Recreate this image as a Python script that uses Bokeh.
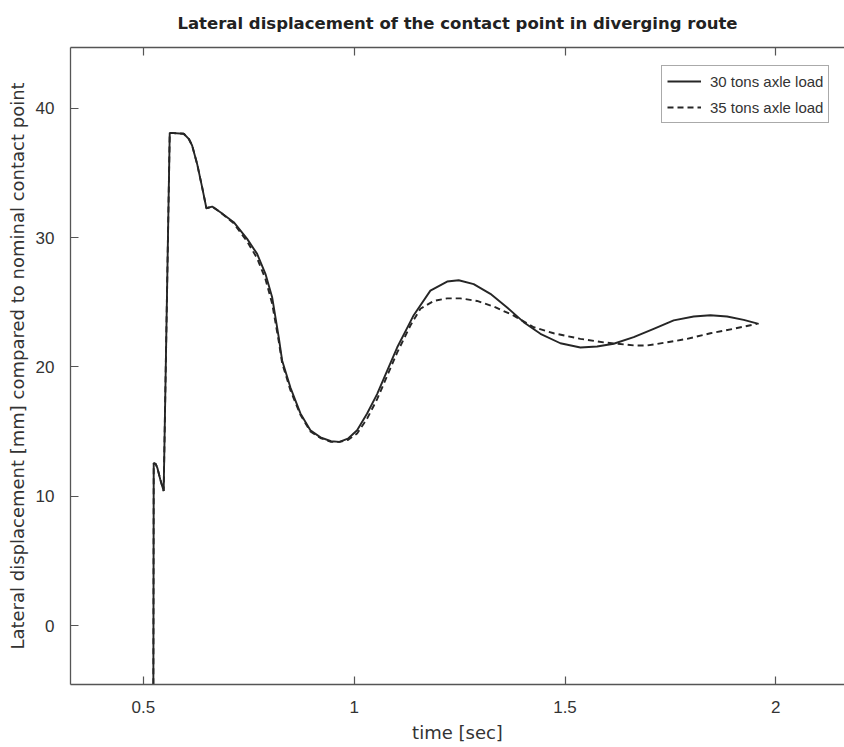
from bokeh.plotting import figure
from bokeh.models import Range1d, FixedTicker, LinearAxis, Legend, LegendItem
from bokeh.embed import file_html
from bokeh.resources import INLINE

# ---- data ----
t30 = [0.5228, 0.5244, 0.529, 0.533, 0.540, 0.548, 0.5624, 0.5956, 0.6075, 0.6155,
       0.6274, 0.6392, 0.6494, 0.663, 0.6826, 0.7142, 0.746, 0.7697, 0.7894, 0.8053,
       0.8209, 0.829, 0.8487, 0.8724, 0.896, 0.92, 0.945, 0.965, 0.985, 1.0069,
       1.0306, 1.0543, 1.078, 1.1018, 1.1333, 1.1411, 1.1807, 1.2204, 1.2479, 1.2834,
       1.323, 1.3627, 1.402, 1.4417, 1.489, 1.5365, 1.5761, 1.6155, 1.663, 1.7104,
       1.7578, 1.8053, 1.8449, 1.8845, 1.9239, 1.9594]
d30 = [-20.0, 12.55, 12.5, 12.2, 11.3, 10.4, 38.1, 38.03, 37.64, 37.12,
       35.7, 33.9, 32.27, 32.4, 31.96, 31.19, 29.9, 28.74, 27.2, 25.39,
       22.3, 20.5, 18.4, 16.4, 15.1, 14.55, 14.25, 14.2, 14.45, 15.1,
       16.4, 17.9, 19.7, 21.5, 23.5, 24.0, 25.9, 26.6, 26.7, 26.4,
       25.65, 24.6, 23.46, 22.56, 21.83, 21.5, 21.58, 21.79, 22.3, 22.95,
       23.6, 23.9, 24.0, 23.9, 23.64, 23.33]

t35 = [0.5228, 0.5244, 0.529, 0.533, 0.540, 0.548, 0.5624, 0.5956, 0.6075, 0.6155,
       0.6274, 0.6392, 0.6494, 0.663, 0.6826, 0.7142, 0.746, 0.7697, 0.7894, 0.8053,
       0.8209, 0.829, 0.8487, 0.8724, 0.896, 0.92, 0.945, 0.965, 0.985, 1.0069,
       1.0306, 1.0543, 1.078, 1.1018, 1.1333, 1.157, 1.1886, 1.2204, 1.2519, 1.2915,
       1.3309, 1.3783, 1.4258, 1.4732, 1.5365, 1.5918, 1.663, 1.6947, 1.7422, 1.7896,
       1.8449, 1.9001, 1.9556]
d35 = [-20.0, 12.55, 12.5, 12.2, 11.3, 10.4, 38.1, 38.03, 37.64, 37.12,
       35.7, 33.9, 32.27, 32.4, 31.96, 31.1, 29.7, 28.4, 26.8, 24.9,
       22.0, 20.3, 18.2, 16.3, 15.0, 14.5, 14.2, 14.2, 14.35, 14.85,
       16.0, 17.5, 19.3, 21.1, 23.2, 24.5, 25.1, 25.3, 25.3, 25.1,
       24.67, 23.97, 23.07, 22.6, 22.17, 21.9, 21.66, 21.66, 21.9, 22.17,
       22.6, 22.95, 23.33]

x_ticks = [0.5, 1, 1.5, 2]
x_tick_labels = ["0.5", "1", "1.5", "2"]
y_ticks = [0, 10, 20, 30, 40]
series_names = ["30 tons axle load", "35 tons axle load"]

FONT = "Liberation Sans"
WIDE = "DejaVu Sans"
AX = "#555555"
TXT = "#333333"
LINE = "#262626"

p = figure(width=844, height=747, output_backend="svg", toolbar_location=None,
           x_range=Range1d(0.327, 2.163), y_range=Range1d(-4.56, 44.7),
           min_border_left=70, min_border_right=0, min_border_top=47, min_border_bottom=63,
           x_axis_label="time [sec]",
           y_axis_label="Lateral displacement [mm] compared to nominal contact point")
p.outline_line_color = None
p.grid.visible = False
p.background_fill_color = "white"
p.border_fill_color = "white"

p.title.text = "Lateral displacement of the contact point in diverging route"
p.title.align = "center"
p.title.vertical_align = "top"
p.title.text_font = WIDE
p.title.text_font_size = "16.5px"
p.title.text_font_style = "bold"
p.title.text_color = "#222222"
p.title.standoff = 26

def style_axis(ax, labels=True):
    ax.axis_line_color = AX
    ax.axis_line_width = 1.3
    ax.major_tick_line_color = AX
    ax.major_tick_line_width = 1.2
    ax.major_tick_in = 8
    ax.major_tick_out = 0
    ax.minor_tick_line_color = None
    ax.major_label_text_font = FONT
    ax.major_label_text_font_size = "17px" if labels else "0px"
    ax.major_label_text_color = TXT
    ax.axis_label_text_font = WIDE
    ax.axis_label_text_font_size = "18px"
    ax.axis_label_text_font_style = "normal"
    ax.axis_label_text_color = TXT

xa = p.xaxis[0]
style_axis(xa)
xa.ticker = FixedTicker(ticks=x_ticks)
xa.major_label_overrides = {k: v for k, v in zip(x_ticks, x_tick_labels)}
xa.major_label_standoff = 16
xa.axis_label_standoff = 6

ya = p.yaxis[0]
style_axis(ya)
ya.ticker = FixedTicker(ticks=y_ticks)
ya.major_label_standoff = 16
ya.axis_label_standoff = 5

top = LinearAxis(ticker=FixedTicker(ticks=x_ticks))
style_axis(top, labels=False)
top.major_label_standoff = 0
top.axis_label_standoff = 0
p.add_layout(top, "above")

r1 = p.line(t30, d30, line_color=LINE, line_width=1.9)
r2 = p.line(t35, d35, line_color=LINE, line_width=1.9, line_dash="6 4")

legend = Legend(items=[LegendItem(label=series_names[0], renderers=[r1]),
                       LegendItem(label=series_names[1], renderers=[r2])],
                location=(591, 561))
legend.label_text_font = FONT
legend.label_text_font_size = "15px"
legend.label_text_color = TXT
legend.glyph_width = 34
legend.glyph_height = 20
legend.label_height = 20
legend.label_standoff = 9
legend.padding = 5
legend.spacing = 6
legend.margin = 0
legend.border_line_color = AX
legend.border_line_width = 1.3
legend.background_fill_color = "white"
legend.background_fill_alpha = 1.0
p.add_layout(legend, "center")

open("out.html", "w").write(file_html(p, INLINE))
